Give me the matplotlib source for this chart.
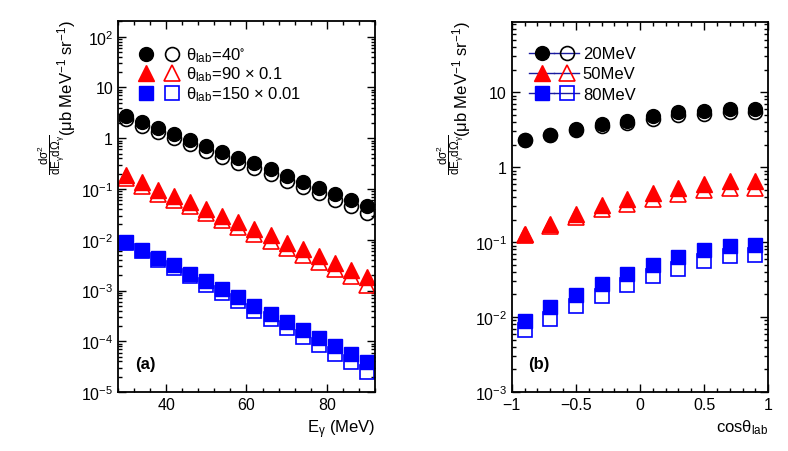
import numpy as np
import matplotlib
matplotlib.use("Agg")
import matplotlib.pyplot as plt
from matplotlib.ticker import LogLocator, MultipleLocator, FixedLocator, FuncFormatter, NullFormatter
from matplotlib.legend_handler import HandlerTuple
from matplotlib.lines import Line2D

plt.rcParams['font.family'] = ['Liberation Sans', 'DejaVu Sans']
plt.rcParams['mathtext.fontset'] = 'custom'
plt.rcParams['mathtext.rm'] = 'Liberation Sans'
plt.rcParams['mathtext.it'] = 'Liberation Sans:italic'
plt.rcParams['mathtext.bf'] = 'Liberation Sans:bold'
plt.rcParams['mathtext.default'] = 'regular'

# panel (a): energy spectra
e_gamma = [30, 34, 38, 42, 46, 50, 54, 58, 62, 66, 70, 74, 78, 82, 86, 90]
a40_full = [2.7, 2.05, 1.6, 1.2, 0.92, 0.69, 0.53, 0.40, 0.32, 0.245, 0.183, 0.139, 0.106, 0.080, 0.062, 0.046]
a40_open = [2.35, 1.75, 1.35, 1.0, 0.77, 0.57, 0.43, 0.33, 0.26, 0.195, 0.145, 0.108, 0.082, 0.061, 0.046, 0.033]
a90_full = [0.188, 0.135, 0.0946, 0.0733, 0.0558, 0.0411, 0.0295, 0.0224, 0.0165, 0.0122, 0.00873, 0.00643, 0.00489, 0.00351, 0.00258, 0.00187]
a90_open = [0.165, 0.117, 0.081, 0.062, 0.047, 0.034, 0.024, 0.018, 0.0131, 0.0096, 0.0068, 0.0049, 0.0037, 0.0026, 0.0019, 0.00128]
a150_full = [9.0e-3, 6.4e-3, 4.36e-3, 3.12e-3, 2.14e-3, 1.51e-3, 1.05e-3, 7.45e-4, 4.95e-4, 3.49e-4, 2.40e-4, 1.64e-4, 1.16e-4, 8.07e-5, 5.70e-5, 3.92e-5]
a150_open = [8.6e-3, 6.0e-3, 4.0e-3, 2.8e-3, 1.9e-3, 1.3e-3, 8.9e-4, 6.2e-4, 4.0e-4, 2.8e-4, 1.85e-4, 1.23e-4, 8.5e-5, 5.7e-5, 3.9e-5, 2.5e-5]

# panel (b): angular distributions
cos_lab = [-0.9, -0.7, -0.5, -0.3, -0.1, 0.1, 0.3, 0.5, 0.7, 0.9]
b20_full = [2.33, 2.72, 3.24, 3.78, 4.18, 4.79, 5.41, 5.68, 5.99, 5.99]
b20_open = [2.3, 2.66, 3.1, 3.55, 3.9, 4.4, 4.9, 5.1, 5.4, 5.35]
b50_full = [0.129, 0.175, 0.238, 0.308, 0.378, 0.45, 0.525, 0.599, 0.643, 0.643]
b50_open = [0.123, 0.163, 0.215, 0.272, 0.325, 0.38, 0.44, 0.50, 0.53, 0.53]
b80_full = [0.00873, 0.0136, 0.0198, 0.0278, 0.0378, 0.0498, 0.063, 0.0773, 0.0885, 0.0901]
b80_open = [0.00662, 0.00929, 0.0140, 0.0190, 0.0264, 0.0352, 0.0441, 0.0551, 0.065, 0.0677]

legend_a = [r'θ$_{lab}$=40$^{\circ}$', r'θ$_{lab}$=90 × 0.1', r'θ$_{lab}$=150 × 0.01']
legend_b = ['20MeV', '50MeV', '80MeV']
xticks_a = [40, 60, 80]
xticks_b = [-1, -0.5, 0, 0.5, 1]
yticks_a = [1e-5, 1e-4, 1e-3, 1e-2, 1e-1, 1, 10, 100]
yticks_b = [1e-3, 1e-2, 1e-1, 1, 10]

ylab_unit = r'(μb MeV$^{-1}$ sr$^{-1}$)'
ylab_frac = r'$\dfrac{dσ^{2}}{dE_{γ}dΩ_{γ}}$'
FS = 12


def log_label(v, pos):
    e = int(round(np.log10(v)))
    if e == 0:
        return '1'
    if e == 1:
        return '10'
    return r'$10^{%s}$' % ('−%d' % -e if e < 0 else '%d' % e)


def style_axis(ax, yticks):
    ax.set_yscale('log')
    ax.tick_params(which='both', direction='in', top=True, right=True, labelsize=11.5, width=1)
    ax.tick_params(which='major', length=6)
    ax.tick_params(which='minor', length=3)
    ax.yaxis.set_major_locator(FixedLocator(yticks))
    ax.yaxis.set_minor_locator(LogLocator(base=10, subs=np.arange(2, 10), numticks=20))
    ax.yaxis.set_major_formatter(FuncFormatter(log_label))
    ax.yaxis.set_minor_formatter(NullFormatter())
    for s in ax.spines.values():
        s.set_linewidth(1.3)


def draw_sets(ax, x, sets):
    # open markers first, filled drawn on top
    for m, c, ms, full, opn in sets:
        ax.plot(x, opn, m, ms=ms, mfc='none', mec=c, mew=1.2, ls='none')
        ax.plot(x, full, m, ms=ms, color=c, ls='none')


def y_title(ax, xunit, xfrac):
    ax.set_ylabel(ylab_unit, fontsize=FS, loc='top')
    ax.yaxis.set_label_coords(xunit, 1.005)
    ax.text(xfrac, 0.643, ylab_frac, transform=ax.transAxes, fontsize=8.5, rotation=90,
            ha='center', va='center', rotation_mode='anchor')


fig = plt.figure(figsize=(7.88, 4.52), dpi=100)
ax1 = fig.add_axes([0.1497, 0.1305, 0.3261, 0.8208])
ax2 = fig.add_axes([0.6494, 0.1305, 0.3256, 0.8193])

ms_c, ms_t, ms_s = 10, 11, 9.5

# ---- panel (a)
draw_sets(ax1, e_gamma, [('o', 'black', ms_c, a40_full, a40_open),
                         ('^', 'red', ms_t, a90_full, a90_open),
                         ('s', 'blue', ms_s, a150_full, a150_open)])
style_axis(ax1, yticks_a)
ax1.set_xlim(28, 92)
ax1.set_ylim(1e-5, 2.04e2)
ax1.xaxis.set_major_locator(FixedLocator(xticks_a))
ax1.xaxis.set_minor_locator(MultipleLocator(4))
ax1.set_xlabel(r'E$_{γ}$ (MeV)', fontsize=FS, loc='right')
y_title(ax1, -0.155, -0.26)
ax1.text(0.065, 0.065, '(a)', transform=ax1.transAxes, fontsize=FS, fontweight='bold')

ha = []
for m, c, ms in [('o', 'black', ms_c), ('^', 'red', ms_t), ('s', 'blue', ms_s)]:
    ha.append((Line2D([], [], marker=m, ms=ms, color=c, ls='none'),
               Line2D([], [], marker=m, ms=ms, mfc='none', mec=c, mew=1.2, ls='none')))
ax1.legend(ha, legend_a, handler_map={tuple: HandlerTuple(ndivide=None, pad=0.6)},
           loc='upper left', bbox_to_anchor=(0.05, 0.953), frameon=False, fontsize=FS,
           handlelength=2.6, handleheight=0.5, handletextpad=0.3, labelspacing=0.05, borderaxespad=0)

# ---- panel (b)
draw_sets(ax2, cos_lab, [('o', 'black', ms_c, b20_full, b20_open),
                         ('^', 'red', ms_t, b50_full, b50_open),
                         ('s', 'blue', ms_s, b80_full, b80_open)])
style_axis(ax2, yticks_b)
ax2.set_xlim(-1, 1)
ax2.set_ylim(1e-3, 87)
ax2.xaxis.set_major_locator(FixedLocator(xticks_b))
ax2.xaxis.set_minor_locator(MultipleLocator(0.1))
ax2.xaxis.set_major_formatter(FuncFormatter(lambda v, p: ('%g' % v).replace('-', '−')))
ax2.set_xlabel(r'cosθ$_{lab}$', fontsize=FS, loc='right')
y_title(ax2, -0.15, -0.24)
ax2.text(0.065, 0.065, '(b)', transform=ax2.transAxes, fontsize=FS, fontweight='bold')

hb = []
for m, c, ms in [('o', 'black', ms_c), ('^', 'red', ms_t), ('s', 'blue', ms_s)]:
    f = Line2D([], [], marker=m, ms=ms, mfc=c, mec=c, color='#1a1aa0', ls='-', lw=1)
    o = Line2D([], [], marker=m, ms=ms, mfc='none', mec=c, mew=1.2, color='#1a1aa0', ls='-', lw=1)
    hb.append((f, o))
ax2.legend(hb, legend_b, handler_map={tuple: HandlerTuple(ndivide=None, pad=0.0)},
           loc='upper left', bbox_to_anchor=(0.043, 0.952), frameon=False, fontsize=FS,
           handlelength=3.0, handleheight=0.5, handletextpad=0.2, labelspacing=0.32, borderaxespad=0)

fig.savefig('out.png', dpi=100)
